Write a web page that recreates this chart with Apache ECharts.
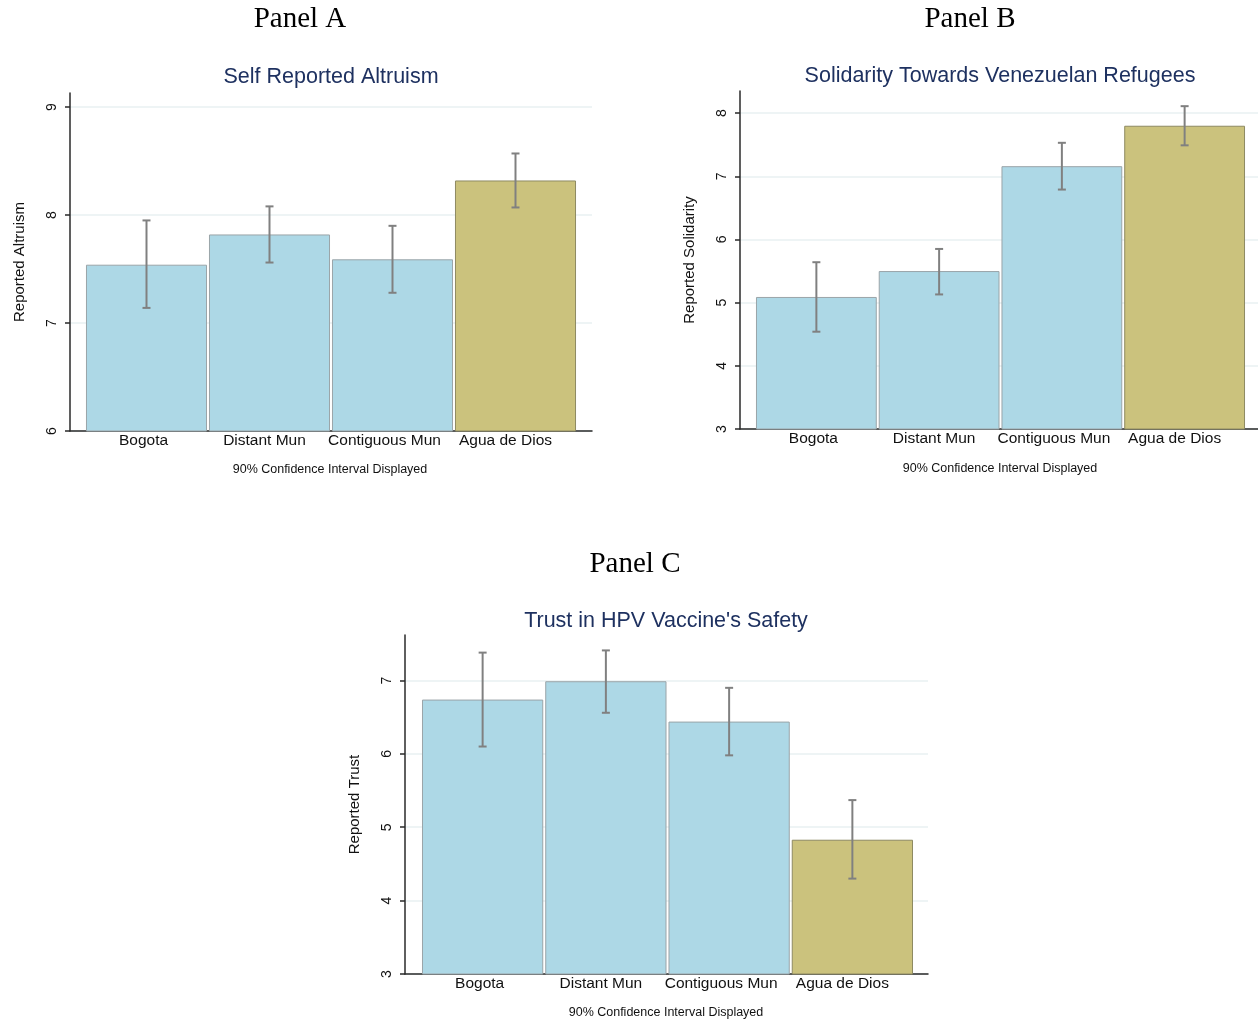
<!DOCTYPE html>
<html>
<head>
<meta charset="utf-8">
<script src="https://cdn.jsdelivr.net/npm/echarts@6/dist/echarts.min.js"></script>
<style>
  html, body { margin: 0; padding: 0; background: #fff; }
  #chart { width: 1258px; height: 1020px; }
</style>
</head>
<body>
<div id="chart"></div>
<script>
// ---- data ----
const categories = ['Bogota', 'Distant Mun', 'Contiguous Mun', 'Agua de Dios'];

const altruismMean = [7.54, 7.82, 7.59, 8.32];
const altruismLow  = [7.14, 7.56, 7.28, 8.07];
const altruismHigh = [7.95, 8.08, 7.90, 8.57];
const altruismTicks = [6, 7, 8, 9];
const altruismRange = [6, 9.13];

const solidarityMean = [5.09, 5.50, 7.16, 7.80];
const solidarityLow  = [4.54, 5.13, 6.79, 7.49];
const solidarityHigh = [5.64, 5.85, 7.53, 8.11];
const solidarityTicks = [3, 4, 5, 6, 7, 8];
const solidarityRange = [3, 8.35];

const trustMean = [6.74, 6.99, 6.44, 4.83];
const trustLow  = [6.10, 6.56, 5.98, 4.30];
const trustHigh = [7.38, 7.41, 6.90, 5.37];
const trustTicks = [3, 4, 5, 6, 7];
const trustRange = [3, 7.62];

const panelTitles = ['Panel A', 'Panel B', 'Panel C'];
const chartTitles = ['Self Reported Altruism', 'Solidarity Towards Venezuelan Refugees', "Trust in HPV Vaccine's Safety"];
const yNames = ['Reported Altruism', 'Reported Solidarity', 'Reported Trust'];
const footnote = '90% Confidence Interval Displayed';

// ---- style ----
const BLUE = '#add8e6', BLUE_BORDER = '#9aa4a8';
const KHAKI = '#cbc27d', KHAKI_BORDER = '#8e8a62';
const TITLE_COLOR = '#1e3160';
const AXIS_COLOR = '#2a2a2a';
const GRID_COLOR = '#e8f0f2';
const ERR_COLOR = '#808080';
const SANS = '"Liberation Sans", Arial, sans-serif';
const SERIF = '"Liberation Serif", "DejaVu Serif", serif';

// label horizontal nudges (right padding, px) so category labels sit like the original
const labelRich = {
  c0: { padding: [0, 6, 0, 0], fontFamily: SANS, fontSize: 15.5, color: '#111' },
  c1: { padding: [0, 10, 0, 0], fontFamily: SANS, fontSize: 15.5, color: '#111' },
  c2: { padding: [0, 16, 0, 0], fontFamily: SANS, fontSize: 15.5, color: '#111' },
  c3: { padding: [0, 20, 0, 0], fontFamily: SANS, fontSize: 15.5, color: '#111' }
};

// panel layouts: frame grid (axes) and bar grid (bars)
const panels = [
  { frame: {left: 70, top: 93, width: 522, height: 338}, bars: {left: 85, width: 492},
    mean: altruismMean, low: altruismLow, high: altruismHigh, ticks: altruismTicks, range: altruismRange },
  { frame: {left: 740, top: 91, width: 518, height: 338}, bars: {left: 755, width: 491},
    mean: solidarityMean, low: solidarityLow, high: solidarityHigh, ticks: solidarityTicks, range: solidarityRange },
  { frame: {left: 405, top: 635, width: 523, height: 339}, bars: {left: 421, width: 493},
    mean: trustMean, low: trustLow, high: trustHigh, ticks: trustTicks, range: trustRange }
];

const grids = [], xAxes = [], yAxes = [], series = [];

panels.forEach((p, i) => {
  const fg = grids.length;
  grids.push({ left: p.frame.left, top: p.frame.top, width: p.frame.width, height: p.frame.height, containLabel: false });
  const bg = grids.length;
  grids.push({ left: p.bars.left, top: p.frame.top, width: p.bars.width, height: p.frame.height, containLabel: false });

  // frame axes
  xAxes.push({
    gridIndex: fg, type: 'value', min: 0, max: 1,
    axisLine: { show: true, lineStyle: { color: AXIS_COLOR, width: 1.5 } },
    axisTick: { show: false }, axisLabel: { show: false }, splitLine: { show: false }
  });
  yAxes.push({
    gridIndex: fg, type: 'value', min: p.range[0], max: p.range[1],
    name: yNames[i], nameLocation: 'middle', nameRotate: 90, nameGap: 43,
    nameTextStyle: { fontFamily: SANS, fontSize: 15, color: '#111' },
    axisLine: { show: true, lineStyle: { color: AXIS_COLOR, width: 1.5 } },
    axisTick: { show: true, length: 5, customValues: p.ticks, lineStyle: { color: AXIS_COLOR, width: 1.5 } },
    axisLabel: { show: true, customValues: p.ticks, rotate: 90, margin: 11, fontFamily: SANS, fontSize: 14, color: '#111' },
    splitLine: { show: true, lineStyle: { color: GRID_COLOR, width: 1.5 } }
  });

  // bar axes
  const bx = xAxes.length;
  xAxes.push({
    gridIndex: bg, type: 'category', data: categories,
    axisLine: { show: false }, axisTick: { show: false },
    axisLabel: {
      margin: 2, interval: 0, fontFamily: SANS, fontSize: 15.5, color: '#111',
      formatter: (v, idx) => '{c' + idx + '|' + v + '}',
      rich: labelRich
    },
    splitLine: { show: false }
  });
  const by = yAxes.length;
  yAxes.push({
    gridIndex: bg, type: 'value', min: p.range[0], max: p.range[1], show: false,
    splitLine: { show: false }
  });

  series.push({
    type: 'bar', xAxisIndex: bx, yAxisIndex: by, barCategoryGap: '1.6%',
    data: p.mean.map((v, k) => ({
      value: v,
      itemStyle: k === 3
        ? { color: KHAKI, borderColor: KHAKI_BORDER, borderWidth: 1 }
        : { color: BLUE, borderColor: BLUE_BORDER, borderWidth: 1 }
    })),
    silent: true, animation: false
  });

  series.push({
    type: 'custom', xAxisIndex: bx, yAxisIndex: by,
    data: p.low.map((lo, k) => [k, lo, p.high[k]]),
    encode: { x: 0, y: [1, 2] },
    renderItem: function (params, api) {
      const x = api.value(0), lo = api.value(1), hi = api.value(2);
      const a = api.coord([x, lo]), b = api.coord([x, hi]);
      const cap = 4;
      const st = { stroke: ERR_COLOR, lineWidth: 2 };
      return { type: 'group', children: [
        { type: 'line', shape: { x1: a[0], y1: a[1], x2: b[0], y2: b[1] }, style: st },
        { type: 'line', shape: { x1: a[0] - cap, y1: a[1], x2: a[0] + cap, y2: a[1] }, style: st },
        { type: 'line', shape: { x1: b[0] - cap, y1: b[1], x2: b[0] + cap, y2: b[1] }, style: st }
      ]};
    },
    z: 5, silent: true, animation: false
  });
});

// titles
const headStyle = { fontFamily: SERIF, fontSize: 29, fontWeight: 'normal', color: '#000' };
const titleStyle = { fontFamily: SANS, fontSize: 21.5, fontWeight: 'normal', color: TITLE_COLOR };
const noteStyle = { fontFamily: SANS, fontSize: 12.5, fontWeight: 'normal', color: '#111' };
const titles = [
  { text: panelTitles[0], left: 300, top: 5, textAlign: 'center', padding: 0, textStyle: headStyle },
  { text: panelTitles[1], left: 970, top: 5, textAlign: 'center', padding: 0, textStyle: headStyle },
  { text: panelTitles[2], left: 635, top: 550, textAlign: 'center', padding: 0, textStyle: headStyle },
  { text: chartTitles[0], left: 331, top: 66, textAlign: 'center', padding: 0, textStyle: titleStyle },
  { text: chartTitles[1], left: 1000, top: 65, textAlign: 'center', padding: 0, textStyle: titleStyle },
  { text: chartTitles[2], left: 666, top: 610, textAlign: 'center', padding: 0, textStyle: titleStyle },
  { text: footnote, left: 330, top: 463, textAlign: 'center', padding: 0, textStyle: noteStyle },
  { text: footnote, left: 1000, top: 462, textAlign: 'center', padding: 0, textStyle: noteStyle },
  { text: footnote, left: 666, top: 1006, textAlign: 'center', padding: 0, textStyle: noteStyle }
];

const chart = echarts.init(document.getElementById('chart'), null, { renderer: 'canvas' });
chart.setOption({
  backgroundColor: '#ffffff',
  animation: false,
  title: titles,
  grid: grids,
  xAxis: xAxes,
  yAxis: yAxes,
  series: series
});
</script>
</body>
</html>
